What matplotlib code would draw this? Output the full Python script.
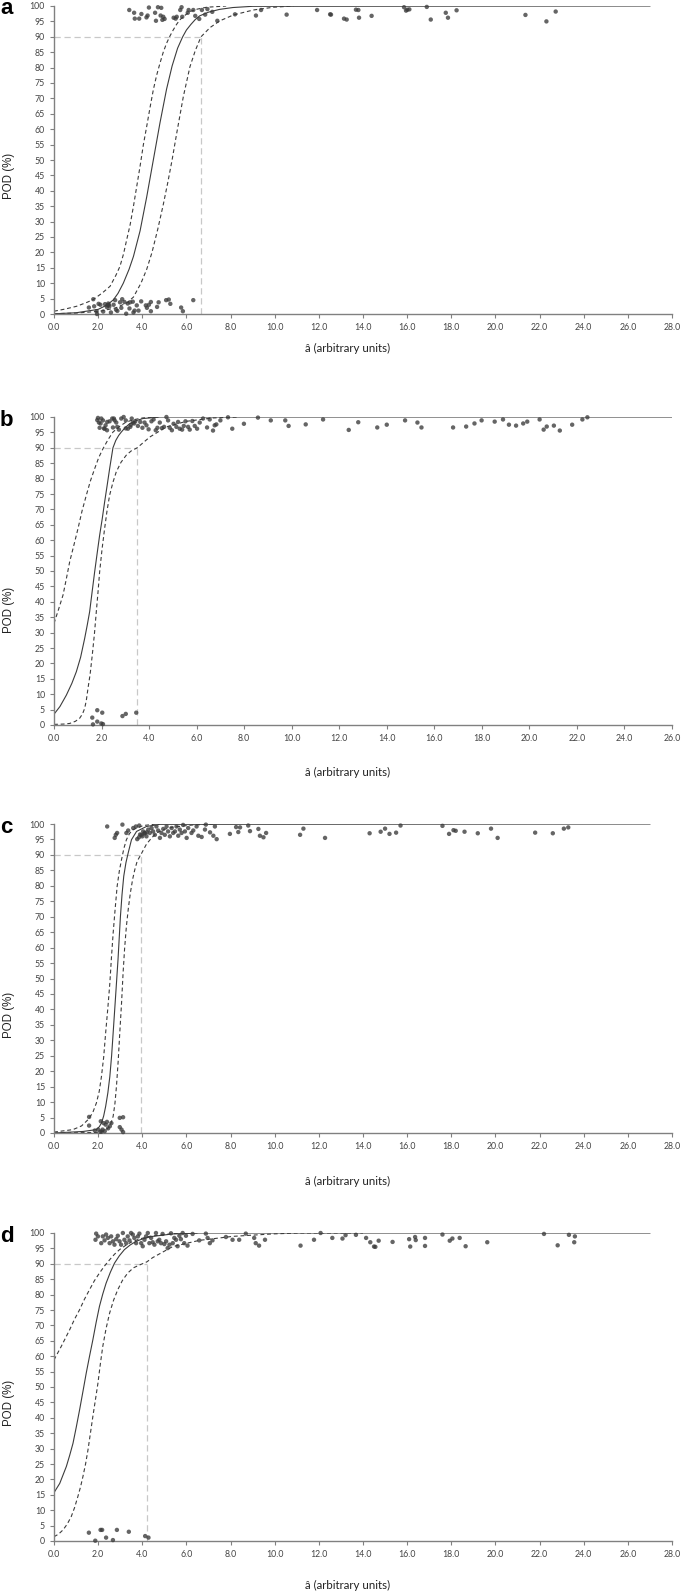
import matplotlib
matplotlib.use("Agg")
import matplotlib.pyplot as plt
from matplotlib.ticker import MultipleLocator, FormatStrFormatter

# ---------------- panel a ----------------
a_x = [3.41, 3.63, 3.66, 3.96, 3.86, 4.19, 4.24, 4.30, 4.58, 4.62, 4.71, 4.86, 4.83, 4.95, 5.01, 4.91,
       5.42, 5.51, 5.56, 5.72, 5.78, 5.81, 6.06, 6.10, 6.31, 6.40, 6.58, 6.70, 6.85, 6.95, 7.17, 7.40,
       8.20, 9.15, 9.38, 10.54, 11.92, 12.51, 12.55, 13.14, 13.26, 13.68, 13.79, 13.82, 14.39, 15.86,
       15.95, 16.01, 16.10, 16.89, 17.07, 17.75, 17.85, 18.24, 21.36, 22.31, 22.73,
       1.78, 1.58, 1.82, 1.95, 2.02, 1.93, 2.23, 2.31, 2.42, 2.46, 2.51, 2.58, 2.40, 2.48, 2.77, 2.81,
       2.87, 2.99, 3.09, 3.19, 3.27, 3.34, 3.42, 3.45, 3.57, 3.60, 3.65, 3.75, 3.83, 3.95, 4.16, 4.21,
       4.39, 4.39, 4.67, 4.74, 5.08, 5.20, 5.27, 5.76, 5.84, 6.31, 2.10, 2.70, 3.05, 4.30]
a_pod = [98.7, 97.8, 95.9, 97.4, 95.9, 96.3, 96.9, 99.5, 97.8, 95.2, 99.6, 99.4, 96.9, 96.5, 95.8, 95.5,
         96.2, 95.9, 96.5, 98.7, 99.6, 96.5, 97.8, 98.7, 98.7, 96.8, 95.8, 98.7, 97.2, 99.0, 98.1, 95.2,
         97.3, 96.9, 98.7, 97.2, 98.7, 97.3, 97.2, 95.9, 95.6, 98.8, 98.7, 96.2, 96.8, 99.6,
         98.5, 98.8, 98.9, 99.7, 95.6, 97.8, 96.2, 98.6, 97.1, 95.0, 98.2,
         4.8, 2.1, 2.5, 0.0, 3.3, 0.9, 0.8, 3.2, 2.8, 3.4, 2.5, 0.5, 2.2, 3.0, 4.5, 1.4,
         1.0, 3.8, 4.8, 3.9, 0.1, 3.4, 1.8, 3.8, 4.0, 0.5, 1.1, 2.8, 1.1, 4.1, 2.8, 2.0,
         3.9, 0.9, 2.3, 3.8, 4.5, 4.7, 3.3, 2.1, 0.9, 4.5, 3.0, 3.0, 2.0, 3.0]
a_fit_x = [0, 1.0, 2.0, 2.4, 2.69, 2.9, 3.14, 3.4, 3.6, 3.9, 4.2, 4.5, 4.8, 5.1, 5.35, 5.6, 5.83,
           6.0, 6.2, 6.4, 6.6, 7.0, 7.5, 8.1, 9.0, 27.0]
a_fit_pod = [0.06, 0.4, 1.5, 2.9, 4.6, 6.7, 10.0, 14.5, 18.7, 27.0, 38.0, 50.0, 62.0, 73.0, 80.5,
             86.3, 90.0, 92.2, 94.0, 95.6, 96.8, 98.0, 98.9, 99.5, 99.9, 100]
a_lo_x = [0, 0.5, 1.02, 1.5, 1.78, 2.2, 2.54, 2.8, 2.99, 3.15, 3.29, 3.45, 3.6, 3.75, 3.9, 4.05,
          4.2, 4.35, 4.5, 4.65, 4.8, 4.95, 5.1, 5.25, 5.4, 5.55, 5.7, 5.9, 6.16, 6.5, 6.92, 7.8]
a_lo_pod = [0.9, 1.6, 2.5, 3.8, 4.7, 6.9, 9.0, 12.5, 15.5, 19.5, 24.0, 29.0, 35.0, 41.5, 48.0, 55.0,
            60.9, 67.0, 72.8, 77.5, 81.4, 85.0, 87.9, 90.2, 92.2, 94.0, 95.5, 96.8, 98.2, 99.0, 99.6, 100]
a_hi_x = [0, 1.0, 2.08, 2.8, 3.3, 3.6, 3.94, 4.2, 4.44, 4.7, 4.95, 5.15, 5.35, 5.56, 5.86, 6.16,
          6.4, 6.66, 7.07, 7.52, 8.13, 9.03, 9.94, 10.85]
a_hi_pod = [0.1, 0.3, 0.9, 2.0, 3.6, 5.5, 10.0, 14.5, 20.0, 27.5, 35.5, 42.5, 50.0, 58.7, 70.6, 80.3,
            85.5, 90.0, 93.0, 95.2, 97.1, 98.7, 99.6, 100]
a_a9095 = 6.66

# ---------------- panel b ----------------
b_x = [1.85, 1.89, 1.92, 1.99, 2.06, 2.13, 2.17, 2.23, 2.34, 2.45, 2.55, 2.48, 2.62, 2.73, 2.83, 2.93,
       3.02, 3.11, 3.21, 3.27, 3.32, 3.42, 3.53, 3.63, 3.72, 3.81, 3.89, 3.98, 4.10, 4.19, 4.28, 4.35,
       4.45, 4.54, 4.63, 4.73, 4.80, 4.87, 4.96, 5.03, 5.15, 5.22, 5.29, 5.39, 5.46, 5.53, 5.64, 5.71,
       5.82, 5.92, 6.02, 6.13, 6.27, 6.44, 6.55, 6.69, 6.76, 6.83, 7.00, 7.32, 7.50, 7.99, 8.58, 9.12,
       9.73, 9.87, 10.59, 11.32, 1.82, 1.96, 2.10, 2.24, 2.52, 2.66, 3.02, 3.23, 3.37,
       12.4, 12.8, 13.6, 14.0, 14.77, 15.29, 15.46, 16.79, 17.34, 17.69, 17.99, 18.54, 18.89, 19.14,
       19.44, 19.74, 19.91, 20.43, 20.60, 20.73, 21.03, 21.28, 21.80, 22.23, 22.44,
       1.61, 1.64, 1.82, 1.82, 2.03, 1.99, 2.06, 2.88, 3.02, 3.46]
b_pod = [99.7, 98.2, 96.5, 99.5, 98.9, 96.2, 97.3, 95.7, 98.6, 99.5, 98.9, 96.6, 98.2, 95.9, 99.5, 100,
         98.9, 96.2, 96.8, 99.5, 98.2, 98.6, 97.1, 98.4, 96.5, 98.2, 97.3, 96.0, 98.6, 99.2, 95.7, 96.5,
         98.2, 96.4, 96.8, 100, 98.9, 96.5, 95.7, 97.8, 96.8, 98.4, 96.2, 95.9, 97.1, 98.6, 96.8, 95.9,
         98.7, 97.1, 96.2, 98.2, 99.5, 96.6, 99.2, 95.6, 97.3, 97.6, 98.9, 99.9, 96.2, 97.8, 99.8, 98.9,
         98.9, 97.1, 97.6, 99.2, 99.0, 97.9, 96.3, 98.4, 99.5, 96.8, 96.3, 97.4, 97.9,
         95.8, 98.3, 96.6, 97.5, 98.9, 98.2, 96.6, 96.6, 96.9, 97.9, 98.9, 98.5, 99.2, 97.5,
         97.2, 97.9, 98.5, 99.2, 95.9, 96.9, 97.2, 95.6, 97.5, 99.2, 99.9,
         2.4, 0.2, 4.8, 1.1, 4.0, 0.5, 0.3, 2.9, 3.6, 4.0]
b_fit_x = [0, 0.25, 0.52, 0.75, 0.94, 1.12, 1.29, 1.4, 1.5, 1.6, 1.71, 1.82, 1.92, 2.03, 2.13, 2.24,
           2.34, 2.48, 2.6, 2.72, 2.83, 3.0, 3.18, 3.45, 3.74, 4.45, 26.0]
b_fit_pod = [3.5, 6.0, 9.7, 13.5, 17.3, 22.0, 28.1, 32.5, 36.8, 43.0, 49.7, 56.0, 61.6, 67.0, 72.4,
             78.0, 83.2, 90.0, 92.4, 94.0, 95.1, 96.6, 97.8, 98.8, 99.5, 100, 100]
b_lo_x = [0, 0.19, 0.38, 0.52, 0.66, 0.84, 1.01, 1.18, 1.36, 1.53, 1.71, 1.88, 2.06, 2.27, 2.48,
          2.75, 3.04, 3.4, 3.74, 4.45]
b_lo_pod = [33.0, 37.5, 42.2, 47.5, 53.0, 58.5, 63.8, 69.5, 74.6, 79.2, 83.2, 86.8, 89.7, 92.6, 95.1,
            96.9, 98.4, 99.2, 99.7, 100]
b_hi_x = [0, 0.4, 0.66, 0.9, 1.08, 1.2, 1.29, 1.36, 1.43, 1.52, 1.61, 1.7, 1.78, 1.85, 1.92, 2.02,
          2.13, 2.23, 2.34, 2.48, 2.62, 2.82, 3.04, 3.25, 3.5, 4.03, 4.73, 5.57, 6.69, 7.8]
b_hi_pod = [0.2, 0.3, 0.5, 1.2, 2.2, 3.6, 5.4, 8.0, 11.9, 16.5, 22.7, 29.5, 36.8, 43.0, 49.7, 57.0,
            63.8, 69.5, 74.6, 78.8, 82.2, 85.3, 87.6, 89.0, 90.0, 93.5, 96.8, 98.6, 99.7, 100]
b_a9095 = 3.5

# ---------------- panel c ----------------
c_x = [2.41, 2.80, 2.75, 2.86, 3.10, 3.28, 3.36, 3.59, 3.71, 3.86, 3.77, 3.96, 4.04, 4.11, 4.19, 4.27,
       4.34, 4.42, 4.49, 4.57, 4.64, 4.72, 4.80, 4.87, 4.95, 5.02, 5.10, 5.17, 5.25, 5.33, 5.40, 5.48,
       5.55, 5.63, 5.70, 5.78, 5.85, 5.93, 6.01, 6.08, 6.23, 6.31, 6.46, 6.54, 6.69, 6.84, 6.88, 7.07,
       7.22, 7.29, 7.37, 7.97, 8.25, 8.35, 8.43, 8.80, 8.88, 9.26, 9.33, 9.49, 9.61, 11.15, 11.30, 12.28,
       14.3, 14.8, 15.0, 15.2, 15.5, 15.7, 17.6, 17.9, 18.1, 18.2, 18.6, 19.2, 19.8, 20.1, 21.8, 22.6,
       23.1, 23.3, 3.90, 4.00, 4.10, 4.20, 3.85,
       1.59, 1.59, 1.85, 2.00, 2.12, 2.16, 2.25, 2.34, 2.20, 2.60, 2.53, 2.98, 3.13, 2.98, 3.06, 3.13,
       2.30, 2.10, 2.40, 2.45]
c_pod = [99.2, 96.5, 95.5, 97.1, 99.8, 97.1, 97.9, 98.7, 99.2, 99.5, 95.1, 96.5, 97.6, 97.1, 96.0, 98.2,
         97.1, 98.7, 97.6, 96.5, 99.2, 97.9, 95.5, 97.1, 98.4, 96.5, 99.2, 97.6, 96.0, 98.7, 97.1, 97.6,
         99.2, 96.2, 98.2, 97.1, 99.7, 97.6, 95.5, 98.7, 97.1, 97.9, 99.2, 96.2, 95.8, 98.2, 99.8, 97.3,
         96.2, 99.2, 95.1, 96.8, 99.0, 97.4, 98.9, 99.5, 97.7, 98.4, 96.2, 95.7, 97.1, 96.5, 98.5, 95.5,
         97.0, 97.5, 98.5, 96.8, 97.2, 99.5, 99.4, 96.8, 98.0, 97.8, 97.5, 97.0, 98.5, 95.5, 97.2, 97.0,
         98.5, 98.9, 96.6, 96.0, 96.9, 97.3, 95.7,
         5.2, 2.4, 0.8, 1.1, 3.8, 0.5, 3.2, 2.7, 1.1, 3.2, 2.2, 4.9, 5.1, 1.9, 1.1, 0.3,
         0.6, 0.4, 3.6, 1.5]
c_fit_x = [0, 1.32, 1.92, 2.05, 2.15, 2.25, 2.34, 2.44, 2.53, 2.61, 2.68, 2.78, 2.90, 3.01, 3.08, 3.16,
           3.26, 3.36, 3.51, 3.74, 4.19, 4.8, 27.0]
c_fit_pod = [0, 0.5, 1.1, 2.0, 3.2, 5.5, 8.6, 13.0, 18.3, 25.0, 32.4, 43.1, 56.1, 70.1, 77.0, 83.1,
             87.5, 90.6, 94.9, 97.6, 99.2, 99.9, 100]
c_lo_x = [0, 0.86, 1.25, 1.54, 1.75, 1.92, 2.05, 2.15, 2.25, 2.34, 2.44, 2.53, 2.60, 2.68, 2.77, 2.86,
          2.96, 3.06, 3.17, 3.28, 3.42, 3.59, 4.04, 4.64]
c_lo_pod = [0.3, 1.1, 2.3, 4.3, 6.5, 9.7, 13.5, 18.3, 24.5, 32.4, 40.5, 48.5, 56.5, 64.7, 72.5, 79.8,
            84.8, 88.5, 92.2, 94.9, 96.9, 98.2, 99.5, 100]
c_hi_x = [0, 2.07, 2.30, 2.45, 2.58, 2.68, 2.76, 2.83, 2.91, 2.98, 3.06, 3.13, 3.20, 3.28, 3.37, 3.46,
          3.56, 3.66, 3.77, 3.93, 4.19, 4.40, 4.64, 5.0, 5.4, 6.31, 7.37]
c_hi_pod = [0, 0.2, 0.8, 1.6, 3.2, 5.4, 9.5, 15.1, 23.5, 32.4, 42.0, 51.8, 59.8, 66.9, 72.8, 77.7,
            82.0, 85.2, 88.0, 90.0, 93.5, 95.3, 97.1, 98.3, 99.0, 99.7, 100]
c_a9095 = 3.96

# ---------------- panel d ----------------
d_x = [1.91, 1.99, 1.88, 2.14, 2.21, 2.29, 2.36, 2.44, 2.52, 2.59, 2.67, 2.74, 2.82, 2.89, 2.97, 3.04,
       3.12, 3.19, 3.27, 3.34, 3.42, 3.49, 3.57, 3.64, 3.72, 3.80, 3.87, 3.95, 4.02, 4.10, 4.17, 4.25,
       4.32, 4.40, 4.47, 4.55, 4.62, 4.70, 4.77, 4.85, 4.92, 5.00, 5.08, 5.15, 5.23, 5.30, 5.38, 5.45,
       5.53, 5.60, 5.68, 5.75, 5.83, 5.90, 5.98, 6.05, 6.28, 6.58, 6.88, 6.96, 7.06, 7.18, 7.79, 8.09,
       8.39, 8.69, 9.07, 9.14, 9.29, 9.56, 11.17, 11.78, 12.08, 12.61, 13.21,
       13.07, 13.68, 14.14, 14.33, 14.56, 14.50, 14.71, 15.34, 16.09, 16.14, 16.36, 16.39, 16.81, 16.81,
       17.60, 17.93, 18.05, 18.38, 18.65, 19.63, 22.20, 22.82, 23.33, 23.60, 23.57,
       1.58, 1.87, 2.11, 2.18, 2.36, 2.67, 2.85, 3.39, 4.13, 4.28]
d_pod = [99.8, 98.9, 97.8, 96.7, 98.9, 97.6, 99.5, 98.4, 96.7, 98.9, 97.3, 96.2, 98.0, 99.1, 97.3, 96.2,
         100, 97.8, 96.7, 98.9, 97.6, 100, 99.5, 98.4, 96.7, 98.9, 99.8, 96.7, 95.7, 97.8, 98.9, 100,
         96.7, 98.4, 97.0, 96.2, 100, 97.3, 97.8, 96.7, 99.7, 96.4, 97.3, 95.1, 96.2, 99.9, 96.7, 98.4,
         97.8, 95.7, 99.1, 98.0, 100, 96.7, 99.1, 95.9, 99.7, 97.6, 99.8, 98.4, 96.7, 97.6, 98.7, 97.8,
         97.8, 99.8, 98.4, 96.7, 95.9, 97.8, 95.9, 97.8, 100, 98.4, 99.3,
         98.2, 99.4, 98.4, 97.0, 95.5, 95.6, 97.5, 97.1, 98.0, 95.6, 98.7, 97.7, 98.4, 95.8,
         99.5, 97.5, 98.2, 98.4, 95.7, 97.0, 99.7, 96.0, 99.4, 98.9, 97.0,
         2.7, 0.1, 3.6, 3.6, 1.1, 0.3, 3.6, 3.0, 1.6, 1.1]
d_fit_x = [0, 0.26, 0.56, 0.71, 0.86, 1.01, 1.16, 1.31, 1.46, 1.61, 1.76, 1.91, 2.06, 2.21, 2.36, 2.55,
           2.74, 2.96, 3.19, 3.45, 3.72, 4.1, 4.47, 5.38, 6.58, 27.0]
d_fit_pod = [15.7, 18.7, 24.2, 27.8, 31.7, 37.0, 42.6, 48.5, 54.5, 60.0, 65.3, 71.0, 76.2, 80.2, 83.7,
             87.2, 90.2, 92.6, 94.6, 96.1, 97.3, 98.3, 98.9, 99.7, 100, 100]
d_lo_x = [0, 0.33, 0.71, 0.93, 1.16, 1.38, 1.61, 1.83, 2.06, 2.29, 2.52, 2.74, 2.97, 3.27, 3.57, 3.95,
          4.32, 5.38, 6.5]
d_lo_pod = [58.8, 63.2, 68.6, 72.0, 75.1, 78.5, 81.6, 84.5, 87.0, 89.3, 91.3, 93.1, 94.6, 96.1, 97.3,
            98.2, 98.9, 99.8, 100]
d_hi_x = [0, 0.2, 0.41, 0.6, 0.78, 0.93, 1.08, 1.2, 1.31, 1.43, 1.54, 1.65, 1.76, 1.88, 1.99, 2.1,
          2.21, 2.36, 2.52, 2.7, 2.89, 3.1, 3.34, 3.6, 3.87, 4.2, 4.47, 5.38, 6.58, 8.09, 9.89, 11.1, 14.0]
d_hi_pod = [1.4, 2.2, 3.6, 5.5, 7.9, 10.8, 14.4, 17.5, 20.9, 25.0, 29.6, 35.0, 40.4, 46.0, 51.2, 57.5,
            63.2, 69.0, 74.0, 78.2, 81.6, 84.6, 87.0, 88.7, 89.6, 90.6, 92.0, 95.6, 97.6, 98.9, 99.7, 100, 100]
d_a9095 = 4.2

# axes placement and label spots, in pixels of the 685x1596 figure
W, H = 685, 1596
panels = [
    ("a", 28, 6, 314, a_x, a_pod, a_fit_x, a_fit_pod, a_lo_x, a_lo_pod, a_hi_x, a_hi_pod, a_a9095, 176, 348),
    ("b", 26, 417, 725, b_x, b_pod, b_fit_x, b_fit_pod, b_lo_x, b_lo_pod, b_hi_x, b_hi_pod, b_a9095, 610, 772),
    ("c", 28, 824, 1133, c_x, c_pod, c_fit_x, c_fit_pod, c_lo_x, c_lo_pod, c_hi_x, c_hi_pod, c_a9095, 1015, 1181),
    ("d", 28, 1233, 1541, d_x, d_pod, d_fit_x, d_fit_pod, d_lo_x, d_lo_pod, d_hi_x, d_hi_pod, d_a9095, 1403, 1585),
]

fig = plt.figure(figsize=(6.85, 15.96), dpi=100)
fig.patch.set_facecolor("white")

line_col = "#3c3c3c"
ref_col = "#c8c8c8"
axis_col = "#808080"

for (letter, xmax, top, bot, px, py, fx, fy, lx, ly, hx, hy, a9095, ylab_y, xlab_y) in panels:
    ax = fig.add_axes([54 / W, 1 - bot / H, 618 / W, (bot - top) / H])
    ax.set_xlim(0, xmax)
    ax.set_ylim(0, 100)

    # a90/95 reference lines
    ax.plot([0, a9095], [90, 90], color=ref_col, lw=0.9, ls=(0, (5, 3)))
    ax.plot([a9095, a9095], [0, 90], color=ref_col, lw=0.9, ls=(0, (5, 3)))

    ax.plot(fx, fy, color=line_col, lw=0.8)
    ax.plot(lx, ly, color=line_col, lw=0.8, ls=(0, (3.5, 2.5)))
    ax.plot(hx, hy, color=line_col, lw=0.8, ls=(0, (3.5, 2.5)))

    ax.scatter(px, py, s=10, color="#3a3a3a", alpha=0.78, edgecolors="none", clip_on=False, zorder=3)

    for s in ["top", "right"]:
        ax.spines[s].set_visible(False)
    for s in ["left", "bottom"]:
        ax.spines[s].set_color(axis_col)
        ax.spines[s].set_linewidth(1.0)

    ax.xaxis.set_major_locator(MultipleLocator(2))
    ax.xaxis.set_major_formatter(FormatStrFormatter("%.1f"))
    ax.yaxis.set_major_locator(MultipleLocator(5))
    ax.tick_params(axis="both", direction="out", length=3, width=0.8, color=axis_col,
                   labelsize=6.3, labelcolor="#444444", pad=3.5)
    for lab in ax.get_xticklabels() + ax.get_yticklabels():
        lab.set_family("Lato")

    fig.text(9 / W, 1 - ylab_y / H, "POD (%)", rotation=90, ha="center", va="center",
             fontsize=8.3, family="Liberation Sans", color="#222222")
    fig.text(348 / W, 1 - xlab_y / H, "â (arbitrary units)", ha="center", va="center",
             fontsize=8.3, family="Lato", color="#222222")
    fig.text(0 / W, 1 - (top + 3) / H, letter, ha="left", va="center",
             fontsize=16, fontweight="bold", family="Liberation Sans", color="black")

fig.savefig("out.png", dpi=100)
